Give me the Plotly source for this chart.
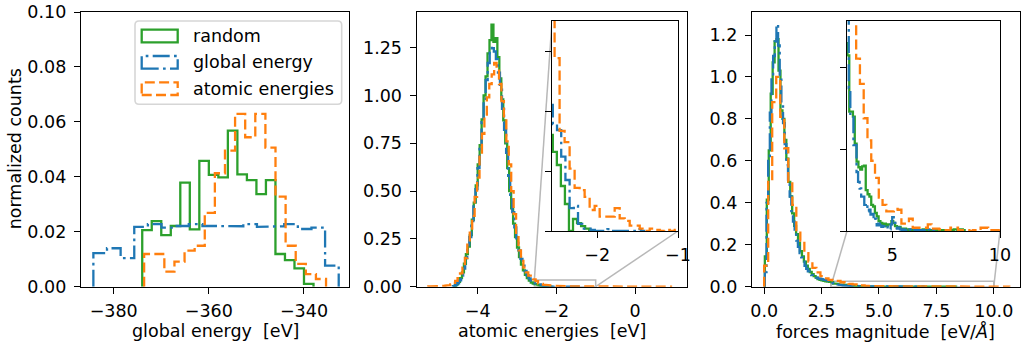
import plotly.graph_objects as go

# ---------------- data ----------------
LABELS = ["random", "global energy", "atomic energies"]
COLORS = ["#2ca02c", "#1f77b4", "#ff7f0e"]

# left panel: global energy histograms (bin start, bin width, densities)
LEFT_RANDOM_START, LEFT_RANDOM_W = -374.0, 2.0
LEFT_RANDOM = [0.0206, 0.0239, 0.0188, 0.0221, 0.0379, 0.0209, 0.0458, 0.0407, 0.0398,
               0.0568, 0.0409, 0.0388, 0.0337, 0.0388, 0.0119, 0.0097, 0.0067, 0.0010]
LEFT_GLOBAL_START, LEFT_GLOBAL_W = -384.27, 2.865
LEFT_GLOBAL = [0.0122, 0.0140, 0.0104, 0.0218, 0.0228, 0.0215, 0.0221, 0.0228, 0.0221,
               0.0221, 0.0220, 0.0228, 0.0218, 0.0220, 0.0228, 0.0210, 0.0215, 0.0077]
LEFT_ATOMIC_START, LEFT_ATOMIC_W = -373.6, 2.124
LEFT_ATOMIC = [0.0119, 0.0119, 0.0055, 0.0091, 0.0131, 0.0149, 0.0269, 0.0413, 0.0495,
               0.0629, 0.0544, 0.0629, 0.0506, 0.0328, 0.0149, 0.0083, 0.0046, 0.0028]

# middle panel: atomic energies
MID_RANDOM_START, MID_RANDOM_W = -4.60, 0.05
MID_RANDOM = [0.004, 0.012, 0.025, 0.045, 0.075, 0.12, 0.17, 0.21, 0.27, 0.35,
              0.44, 0.53, 0.64, 0.74, 0.875, 1.0, 1.1, 1.22, 1.29, 1.37,
              1.28, 1.30, 1.20, 1.09, 0.98, 0.87, 0.75, 0.62, 0.50, 0.41,
              0.33, 0.26, 0.205, 0.155, 0.115, 0.085, 0.062, 0.045, 0.032, 0.022,
              0.016, 0.0132, 0.0110, 0.0075, 0.0045, 0.0, 0.0020, 0.0013, 0.0008, 0.0004]
MID_GLOBAL_START, MID_GLOBAL_W = -4.63, 0.052
MID_GLOBAL = [0.003, 0.009, 0.018, 0.033, 0.058, 0.095, 0.15, 0.20, 0.26, 0.33,
              0.42, 0.51, 0.62, 0.73, 0.86, 0.97, 1.08, 1.17, 1.24, 1.26,
              1.23, 1.19, 1.12, 1.03, 0.93, 0.82, 0.70, 0.58, 0.48, 0.39,
              0.31, 0.245, 0.19, 0.145, 0.11, 0.082, 0.060, 0.044, 0.032, 0.021,
              0.0178, 0.0168, 0.0124, 0.0085, 0.0038, 0.0042, 0.0012, 0.0004, 0.0004, 0.0002,
              0.0, 0.0, 0.0, 0.0003, 0.0, 0.0, 0.0, 0.0, 0.0, 0.0, 0.0003, 0.0]
MID_ATOMIC_START, MID_ATOMIC_W = -5.256, 0.062
MID_ATOMIC = [0.002, 0.002, 0.003, 0.002, 0.003, 0.004, 0.004, 0.006, 0.008, 0.012,
              0.02, 0.03, 0.045, 0.07, 0.10, 0.15, 0.22, 0.29, 0.37, 0.47,
              0.57, 0.68, 0.80, 0.90, 0.99, 1.06, 1.11, 1.17, 1.14, 1.06,
              0.97, 0.87, 0.76, 0.64, 0.50, 0.38, 0.27, 0.19, 0.135, 0.10,
              0.075, 0.058, 0.046, 0.038, 0.0288, 0.0167, 0.0148, 0.0104, 0.0072, 0.0068,
              0.0057, 0.0035, 0.0042, 0.0024, 0.0024, 0.0024, 0.0038, 0.0021, 0.0017, 0.0009,
              0.0009, 0.0004, 0.0, 0.0004, 0.0002, 0.0, 0.0002, 0.0, 0.0002, 0.0,
              0.0, 0.0002, 0.0, 0.0, 0.0, 0.0, 0.0, 0.0, 0.0, 0.0,
              0.0, 0.0, 0.0, 0.0, 0.0, 0.0, 0.0, 0.0, 0.0, 0.0,
              0.0, 0.0, 0.0, 0.0, 0.0, 0.0, 0.0, 0.0, 0.0, 0.0]

# right panel: forces magnitude
RIGHT_RANDOM_START, RIGHT_RANDOM_W = 0.03, 0.085
RIGHT_RANDOM = [0.145, 0.415, 0.65, 0.92, 1.07, 1.17, 1.18, 1.03, 0.84, 0.80,
                0.70, 0.61, 0.50, 0.43, 0.35, 0.29, 0.25, 0.21, 0.17, 0.145,
                0.12, 0.10, 0.085, 0.07, 0.06, 0.05, 0.043, 0.036, 0.033, 0.030,
                0.028, 0.026, 0.024, 0.023, 0.0215, 0.0146, 0.0146, 0.0140, 0.0107, 0.0085,
                0.0078, 0.0075, 0.0079, 0.0080, 0.0050, 0.0045, 0.0042, 0.0032, 0.0030, 0.0022,
                0.0018, 0.0012, 0.0010, 0.0008, 0.0009, 0.0006, 0.0008, 0.0008, 0.0012, 0.0010,
                0.0006, 0.0004, 0.0005, 0.0003, 0.0002, 0.0003, 0.0002, 0.0001, 0.0002, 0.0001,
                0.0001, 0.0002, 0.0001, 0.0, 0.0001, 0.0002, 0.0001, 0.0001, 0.0, 0.0001,
                0.0001, 0.0, 0.0001, 0.0001, 0.0, 0.0001, 0.0, 0.0001, 0.0001, 0.0,
                0.0001, 0.0, 0.0002, 0.0002, 0.0001, 0.0002, 0.0002, 0.0001]
RIGHT_GLOBAL_START, RIGHT_GLOBAL_W = 0.03, 0.072
RIGHT_GLOBAL = [0.07, 0.40, 0.60, 0.83, 1.0, 1.10, 1.17, 1.25, 1.15, 1.00,
                0.86, 0.78, 0.68, 0.58, 0.50, 0.43, 0.36, 0.31, 0.26, 0.22,
                0.19, 0.16, 0.14, 0.12, 0.10, 0.085, 0.073, 0.062, 0.055, 0.050,
                0.046, 0.043, 0.040, 0.038, 0.036, 0.034, 0.033, 0.031, 0.029, 0.028,
                0.027, 0.0175, 0.0141, 0.0141, 0.0105, 0.0105, 0.0072, 0.0060, 0.0052, 0.0042,
                0.0042, 0.0032, 0.0034, 0.0024, 0.0026, 0.0020, 0.0021, 0.0013, 0.0015, 0.0007,
                0.0009, 0.0007, 0.0005, 0.0006, 0.0004, 0.0003, 0.0005, 0.0002, 0.0008, 0.0017,
                0.0010, 0.0004, 0.0003, 0.0004, 0.0002, 0.0001, 0.0002, 0.0001, 0.0, 0.0001,
                0.0002, 0.0001, 0.0, 0.0001, 0.0, 0.0001, 0.0, 0.0001, 0.0001, 0.0,
                0.0001, 0.0, 0.0002, 0.0001, 0.0, 0.0001]
RIGHT_ATOMIC_START, RIGHT_ATOMIC_W = 0.0, 0.175
RIGHT_ATOMIC = [0.10, 0.50, 0.88, 1.00, 0.81, 0.66, 0.50, 0.39, 0.27, 0.22,
                0.16, 0.12, 0.09, 0.068, 0.05, 0.04, 0.033, 0.030, 0.028, 0.0211,
                0.0180, 0.0138, 0.0111, 0.0086, 0.0065, 0.0041, 0.0032, 0.0024, 0.0024, 0.0027,
                0.0026, 0.0009, 0.0009, 0.0015, 0.0004, 0.0004, 0.0004, 0.0004, 0.0008, 0.0003,
                0.0003, 0.0002, 0.0001, 0.0001, 0.0004, 0.0004, 0.0001, 0.0001, 0.0001, 0.0,
                0.0001, 0.0001, 0.0004, 0.0004, 0.0001, 0.0001, 0.0001, 0.0003, 0.0001, 0.0001, 0.0001]

# tick labels
LEFT_XTICKS = [-380, -360, -340]
LEFT_XTEXT = ["\u2212380", "\u2212360", "\u2212340"]
LEFT_YTICKS = [0.0, 0.02, 0.04, 0.06, 0.08, 0.10]
LEFT_YTEXT = ["0.00", "0.02", "0.04", "0.06", "0.08", "0.10"]
MID_XTICKS = [-4, -2, 0]
MID_XTEXT = ["\u22124", "\u22122", "0"]
MID_YTICKS = [0.0, 0.25, 0.5, 0.75, 1.0, 1.25]
MID_YTEXT = ["0.00", "0.25", "0.50", "0.75", "1.00", "1.25"]
RIGHT_XTICKS = [0.0, 2.5, 5.0, 7.5, 10.0]
RIGHT_XTEXT = ["0.0", "2.5", "5.0", "7.5", "10.0"]
RIGHT_YTICKS = [0.0, 0.2, 0.4, 0.6, 0.8, 1.0, 1.2]
RIGHT_YTEXT = ["0.0", "0.2", "0.4", "0.6", "0.8", "1.0", "1.2"]
INS_MID_XTICKS = [-2, -1]
INS_MID_XTEXT = ["\u22122", "\u22121"]
INS_MID_YTICKS = [0.0, 0.01, 0.02, 0.03]
INS_RIGHT_XTICKS = [5, 10]
INS_RIGHT_XTEXT = ["5", "10"]
INS_RIGHT_YTICKS = [0.0, 0.01, 0.02]

# zoom windows of the insets
INS_MID_XR, INS_MID_YR = [-2.56, -1.0], [0.0, 0.035]
INS_RIGHT_XR, INS_RIGHT_YR = [2.9, 10.0], [0.0, 0.0257]

# ---------------- layout geometry (pixels) ----------------
W, H = 1021, 343
TOP, BOTTOM = 12, 286.7
LEFT_PX = (81, 349)
MID_PX = (416.7, 686.5)
RIGHT_PX = (752, 1019.5)
INS_MID_PX = (552, 678, 21, 231)
INS_RIGHT_PX = (847, 1000, 21, 231)

LEFT_XR, LEFT_YR = [-386.87, -330.54], [0.0, 0.10]
MID_XR, MID_YR = [-5.551, 1.309], [0.0, 1.4366]
RIGHT_XR, RIGHT_YR = [-0.53, 11.12], [0.0, 1.3097]

FONT = "DejaVu Sans"
FS = 17.5
LW = 2.3
DASHES = ["solid", "17px,4.3px,2.7px,4.3px", "10px,4.3px"]


def xd(a, b):
    return [a / W, b / W]


def yd(top, bot):
    return [1 - bot / H, 1 - top / H]


def step_xy(start, width, vals):
    xs, ys = [start], [0.0]
    for i, v in enumerate(vals):
        x0 = start + i * width
        xs += [x0, x0 + width]
        ys += [v, v]
    xs.append(start + len(vals) * width)
    ys.append(0.0)
    return xs, ys


fig = go.Figure()

panels = [
    ("x", "y", [(LEFT_RANDOM_START, LEFT_RANDOM_W, LEFT_RANDOM),
                (LEFT_GLOBAL_START, LEFT_GLOBAL_W, LEFT_GLOBAL),
                (LEFT_ATOMIC_START, LEFT_ATOMIC_W, LEFT_ATOMIC)]),
    ("x2", "y2", [(MID_RANDOM_START, MID_RANDOM_W, MID_RANDOM),
                  (MID_GLOBAL_START, MID_GLOBAL_W, MID_GLOBAL),
                  (MID_ATOMIC_START, MID_ATOMIC_W, MID_ATOMIC)]),
    ("x3", "y3", [(RIGHT_RANDOM_START, RIGHT_RANDOM_W, RIGHT_RANDOM),
                  (RIGHT_GLOBAL_START, RIGHT_GLOBAL_W, RIGHT_GLOBAL),
                  (RIGHT_ATOMIC_START, RIGHT_ATOMIC_W, RIGHT_ATOMIC)]),
    ("x4", "y4", [(MID_RANDOM_START, MID_RANDOM_W, MID_RANDOM),
                  (MID_GLOBAL_START, MID_GLOBAL_W, MID_GLOBAL),
                  (MID_ATOMIC_START, MID_ATOMIC_W, MID_ATOMIC)]),
    ("x5", "y5", [(RIGHT_RANDOM_START, RIGHT_RANDOM_W, RIGHT_RANDOM),
                  (RIGHT_GLOBAL_START, RIGHT_GLOBAL_W, RIGHT_GLOBAL),
                  (RIGHT_ATOMIC_START, RIGHT_ATOMIC_W, RIGHT_ATOMIC)]),
]
for xa, ya, series in panels:
    for (start, width, vals), name, col, dash in zip(series, LABELS, COLORS, DASHES):
        xs, ys = step_xy(start, width, vals)
        fig.add_trace(go.Scatter(x=xs, y=ys, mode="lines", name=name, xaxis=xa, yaxis=ya,
                                 showlegend=False, hoverinfo="skip",
                                 line=dict(color=col, width=LW, dash=dash)))

axis_common = dict(showline=True, linecolor="black", linewidth=1.4, mirror=True,
                   ticks="outside", ticklen=6, tickwidth=1.4, tickcolor="black",
                   showgrid=False, zeroline=False, fixedrange=True, automargin=False,
                   tickfont=dict(family=FONT, size=FS, color="black"))


def xax(dom, rng, anchor, tv, tt=None):
    d = dict(axis_common, domain=dom, range=rng, anchor=anchor, tickmode="array", tickvals=tv,
             ticklabelstandoff=2)
    if tt is None:
        d["showticklabels"] = False
    else:
        d["ticktext"] = tt
    return d


def yax(dom, rng, anchor, tv, tt=None):
    d = dict(axis_common, domain=dom, range=rng, anchor=anchor, tickmode="array", tickvals=tv,
             ticklabelstandoff=4)
    if tt is None:
        d["showticklabels"] = False
    else:
        d["ticktext"] = tt
    return d


main_y = yd(TOP, BOTTOM)
fig.update_layout(
    width=W, height=H, margin=dict(l=0, r=0, t=0, b=0, pad=0, autoexpand=False),
    paper_bgcolor="white", plot_bgcolor="white",
    font=dict(family=FONT, size=FS, color="black"),
    xaxis=xax(xd(*LEFT_PX), LEFT_XR, "y", LEFT_XTICKS, LEFT_XTEXT),
    yaxis=yax(main_y, LEFT_YR, "x", LEFT_YTICKS, LEFT_YTEXT),
    xaxis2=xax(xd(*MID_PX), MID_XR, "y2", MID_XTICKS, MID_XTEXT),
    yaxis2=yax(main_y, MID_YR, "x2", MID_YTICKS, MID_YTEXT),
    xaxis3=xax(xd(*RIGHT_PX), RIGHT_XR, "y3", RIGHT_XTICKS, RIGHT_XTEXT),
    yaxis3=yax(main_y, RIGHT_YR, "x3", RIGHT_YTICKS, RIGHT_YTEXT),
    xaxis4=xax(xd(INS_MID_PX[0], INS_MID_PX[1]), INS_MID_XR, "y4", INS_MID_XTICKS, INS_MID_XTEXT),
    yaxis4=yax(yd(INS_MID_PX[2], INS_MID_PX[3]), INS_MID_YR, "x4", INS_MID_YTICKS),
    xaxis5=xax(xd(INS_RIGHT_PX[0], INS_RIGHT_PX[1]), INS_RIGHT_XR, "y5", INS_RIGHT_XTICKS, INS_RIGHT_XTEXT),
    yaxis5=yax(yd(INS_RIGHT_PX[2], INS_RIGHT_PX[3]), INS_RIGHT_YR, "x5", INS_RIGHT_YTICKS),
)


def to_paper(x, y, xdom, xr, ydom, yr):
    px = xdom[0] + (x - xr[0]) / (xr[1] - xr[0]) * (xdom[1] - xdom[0])
    py = ydom[0] + (y - yr[0]) / (yr[1] - yr[0]) * (ydom[1] - ydom[0])
    return px, py


GRAY = "#b8b8b8"
shapes = []
# zoom rectangles
shapes.append(dict(type="rect", xref="x2", yref="y2", x0=INS_MID_XR[0], x1=INS_MID_XR[1],
                   y0=INS_MID_YR[0], y1=INS_MID_YR[1], line=dict(color=GRAY, width=1.5),
                   layer="below"))
shapes.append(dict(type="rect", xref="x3", yref="y3", x0=INS_RIGHT_XR[0], x1=INS_RIGHT_XR[1],
                   y0=INS_RIGHT_YR[0], y1=INS_RIGHT_YR[1], line=dict(color=GRAY, width=1.5),
                   layer="below"))
# connectors, middle: upper-left and lower-right corners
mx, my = xd(*MID_PX), main_y
ix, iy = xd(INS_MID_PX[0], INS_MID_PX[1]), yd(INS_MID_PX[2], INS_MID_PX[3])
a = to_paper(INS_MID_XR[0], INS_MID_YR[1], mx, MID_XR, my, MID_YR)
shapes.append(dict(type="line", xref="paper", yref="paper", x0=a[0], y0=a[1], x1=ix[0], y1=iy[1],
                   line=dict(color=GRAY, width=1.5), layer="below"))
a = to_paper(INS_MID_XR[1], INS_MID_YR[0], mx, MID_XR, my, MID_YR)
shapes.append(dict(type="line", xref="paper", yref="paper", x0=a[0], y0=a[1], x1=ix[1], y1=iy[0],
                   line=dict(color=GRAY, width=1.5), layer="below"))
# connectors, right: lower-left and lower-right corners
rx = xd(*RIGHT_PX)
jx, jy = xd(INS_RIGHT_PX[0], INS_RIGHT_PX[1]), yd(INS_RIGHT_PX[2], INS_RIGHT_PX[3])
a = to_paper(INS_RIGHT_XR[0], INS_RIGHT_YR[0], rx, RIGHT_XR, my, RIGHT_YR)
shapes.append(dict(type="line", xref="paper", yref="paper", x0=a[0], y0=a[1], x1=jx[0], y1=jy[0],
                   line=dict(color=GRAY, width=1.5), layer="below"))
a = to_paper(INS_RIGHT_XR[1], INS_RIGHT_YR[0], rx, RIGHT_XR, my, RIGHT_YR)
shapes.append(dict(type="line", xref="paper", yref="paper", x0=a[0], y0=a[1], x1=jx[1], y1=jy[0],
                   line=dict(color=GRAY, width=1.5), layer="below"))

# legend (manual, matplotlib style)
LX0, LX1, LY0, LY1, R = 135, 341.7, 21, 104.3, 4
def P(X, Y):
    return f"{X / W:.5f},{1 - Y / H:.5f}"
path = (f"M {P(LX0 + R, LY0)} L {P(LX1 - R, LY0)} Q {P(LX1, LY0)} {P(LX1, LY0 + R)} "
        f"L {P(LX1, LY1 - R)} Q {P(LX1, LY1)} {P(LX1 - R, LY1)} "
        f"L {P(LX0 + R, LY1)} Q {P(LX0, LY1)} {P(LX0, LY1 - R)} "
        f"L {P(LX0, LY0 + R)} Q {P(LX0, LY0)} {P(LX0 + R, LY0)} Z")
shapes.append(dict(type="path", xref="paper", yref="paper", path=path,
                   fillcolor="rgba(255,255,255,0.8)", line=dict(color="#d6d6d6", width=1.6),
                   layer="above"))
annotations = []
ROWS = [36.0, 62.3, 88.7]
for yc, name, col, dash in zip(ROWS, LABELS, COLORS, DASHES):
    shapes.append(dict(type="rect", xref="paper", yref="paper",
                       x0=141.7 / W, x1=177.7 / W, y0=1 - (yc + 6.3) / H, y1=1 - (yc - 6.3) / H,
                       line=dict(color=col, width=LW, dash=dash), layer="above"))
    annotations.append(dict(x=191 / W, y=1 - yc / H, xref="paper", yref="paper", text=name,
                            showarrow=False, xanchor="left", yanchor="middle",
                            font=dict(family=FONT, size=FS, color="black")))

# axis titles
TY = 1 - 331 / H
for xc, txt in [((LEFT_PX[0] + LEFT_PX[1]) / 2, "global energy\u00a0 [eV]"),
                ((MID_PX[0] + MID_PX[1]) / 2, "atomic energies\u00a0 [eV]"),
                ((RIGHT_PX[0] + RIGHT_PX[1]) / 2, "forces magnitude\u00a0 [eV/<i>Å</i>]")]:
    annotations.append(dict(x=xc / W, y=TY, xref="paper", yref="paper", text=txt,
                            showarrow=False, xanchor="center", yanchor="middle",
                            font=dict(family=FONT, size=FS, color="black")))
annotations.append(dict(x=15 / W, y=1 - (TOP + BOTTOM) / 2 / H, xref="paper", yref="paper",
                        text="normalized counts", textangle=-90, showarrow=False,
                        xanchor="center", yanchor="middle",
                        font=dict(family=FONT, size=FS, color="black")))

fig.update_layout(shapes=shapes, annotations=annotations)
fig.write_html("out.html")
